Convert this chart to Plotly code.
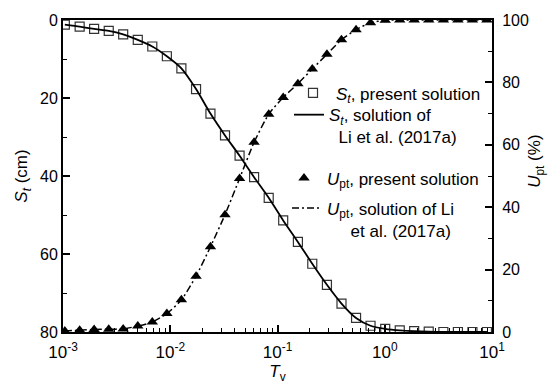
import plotly.graph_objects as go

# Time factor values (log-spaced)
T_v = [0.00104, 0.00143, 0.00195, 0.00267, 0.00364, 0.00498, 0.00680, 0.00930,
       0.0127, 0.0174, 0.0237, 0.0324, 0.0443, 0.0605, 0.0828, 0.113, 0.155,
       0.211, 0.289, 0.395, 0.540, 0.737, 1.01, 1.38, 1.88, 2.57, 3.52, 4.81,
       6.57, 8.97]

# Settlement S_t (cm)
S_t = [1.2, 1.7, 2.3, 2.8, 3.7, 5.1, 6.8, 9.3, 12.4, 17.7, 24.0, 29.6, 34.8,
       40.3, 45.6, 51.4, 56.9, 62.5, 67.9, 72.7, 76.4, 78.4, 79.2, 79.6, 79.8,
       79.9, 80.0, 80.0, 80.0, 80.0]

# Average degree of consolidation U_pt (%)
U_pt = [0.3, 0.6, 0.8, 0.9, 1.0, 1.9, 3.2, 5.9, 10.3, 17.9, 27.3, 37.6, 49.2,
        60.8, 69.8, 75.2, 79.6, 84.3, 89.0, 93.7, 96.9, 99.1, 99.9, 100.0,
        100.0, 100.0, 100.0, 100.0, 100.0, 100.0]

x_ticks = [0.001, 0.01, 0.1, 1, 10]
x_ticktext = ["10<sup>-3</sup>", "10<sup>-2</sup>", "10<sup>-1</sup>",
              "10<sup>0</sup>", "10<sup>1</sup>"]
left_ticks = [0, 20, 40, 60, 80]
right_ticks = [0, 20, 40, 60, 80, 100]

FONT = "Liberation Sans, Arial, sans-serif"
NB = "\u00a0"

fig = go.Figure()

fig.add_trace(go.Scatter(
    x=T_v, y=S_t, mode="markers", name="<i>S</i><sub><i>t</i></sub>, present solution",
    marker=dict(symbol="square-open", size=9, color="#333333", line=dict(width=1.2)),
    legend="legend", yaxis="y"))
fig.add_trace(go.Scatter(
    x=T_v, y=S_t, mode="lines",
    name="<i>S</i><sub><i>t</i></sub>, solution of<br>" + NB * 2 + "Li et al. (2017a)",
    line=dict(color="black", width=1.8, shape="spline", smoothing=0.6),
    legend="legend2", yaxis="y"))
fig.add_trace(go.Scatter(
    x=T_v, y=U_pt, mode="markers", name="<i>U</i><sub>pt</sub>, present solution",
    marker=dict(symbol="triangle-up", size=10, color="black"),
    legend="legend3", yaxis="y2"))
fig.add_trace(go.Scatter(
    x=T_v, y=U_pt, mode="lines",
    name="<i>U</i><sub>pt</sub>, solution of Li<br>" + NB * 5 + "et al. (2017a)",
    line=dict(color="black", width=1.5, dash="7px,3px,2px,3px", shape="spline", smoothing=0.6),
    legend="legend4", yaxis="y2"))

L, R, T, B = 63, 492, 13, 332


def px(x):
    return (x - L) / (R - L)


def py(y):
    return (B - y) / (B - T)


leg_common = dict(font=dict(family=FONT, size=17, color="black"),
                  bgcolor="rgba(0,0,0,0)", borderwidth=0, valign="top",
                  xanchor="left", yanchor="middle", tracegroupgap=0)

minor_style = dict(ticks="inside", ticklen=4, tickwidth=1.2, tickcolor="black", showgrid=False)

fig.update_layout(
    width=549, height=390,
    margin=dict(l=L, r=549 - R, t=T, b=390 - B, pad=0),
    paper_bgcolor="white", plot_bgcolor="white",
    font=dict(family=FONT, size=16, color="black"),
    showlegend=True,
    legend=dict(x=px(290), y=py(88), itemwidth=36, **leg_common),
    legend2=dict(x=px(289), y=py(121.5), **leg_common),
    legend3=dict(x=px(281), y=py(175), itemwidth=36, **leg_common),
    legend4=dict(x=px(287), y=py(217), **leg_common),
    xaxis=dict(
        type="log", range=[-3, 1], tickvals=x_ticks, ticktext=x_ticktext,
        showline=True, linecolor="black", linewidth=2, mirror=True,
        ticks="inside", ticklen=7, tickwidth=1.5, tickcolor="black",
        ticklabelstandoff=4,
        minor=dict(dtick="D1", **minor_style),
        showgrid=False, zeroline=False,
        title=dict(text="<i>T</i><sub>v</sub>", font=dict(size=17), standoff=3),
        tickfont=dict(size=17)),
    yaxis=dict(
        range=[80, 0], tickvals=left_ticks, ticktext=[str(v) for v in left_ticks],
        showline=True, linecolor="black", linewidth=2,
        ticks="inside", ticklen=7, tickwidth=1.5, tickcolor="black",
        minor=dict(dtick=10, **minor_style),
        showgrid=False, zeroline=False,
        title=dict(text="<i>S</i><sub><i>t</i></sub> (cm)", font=dict(size=17), standoff=8),
        tickfont=dict(size=16)),
    yaxis2=dict(
        range=[0, 100], tickvals=right_ticks, ticktext=[str(v) for v in right_ticks],
        overlaying="y", side="right", ticklabelstandoff=5,
        showline=True, linecolor="black", linewidth=2,
        ticks="inside", ticklen=7, tickwidth=1.5, tickcolor="black",
        minor=dict(dtick=10, **minor_style),
        showgrid=False, zeroline=False,
        tickfont=dict(size=16)),
    annotations=[dict(
        text="<i>U</i><sub>pt</sub> (%)", textangle=-90, showarrow=False,
        xref="paper", yref="paper", x=px(536), y=py(158),
        xanchor="center", yanchor="middle", font=dict(size=17))],
)

fig.write_html("out.html")
